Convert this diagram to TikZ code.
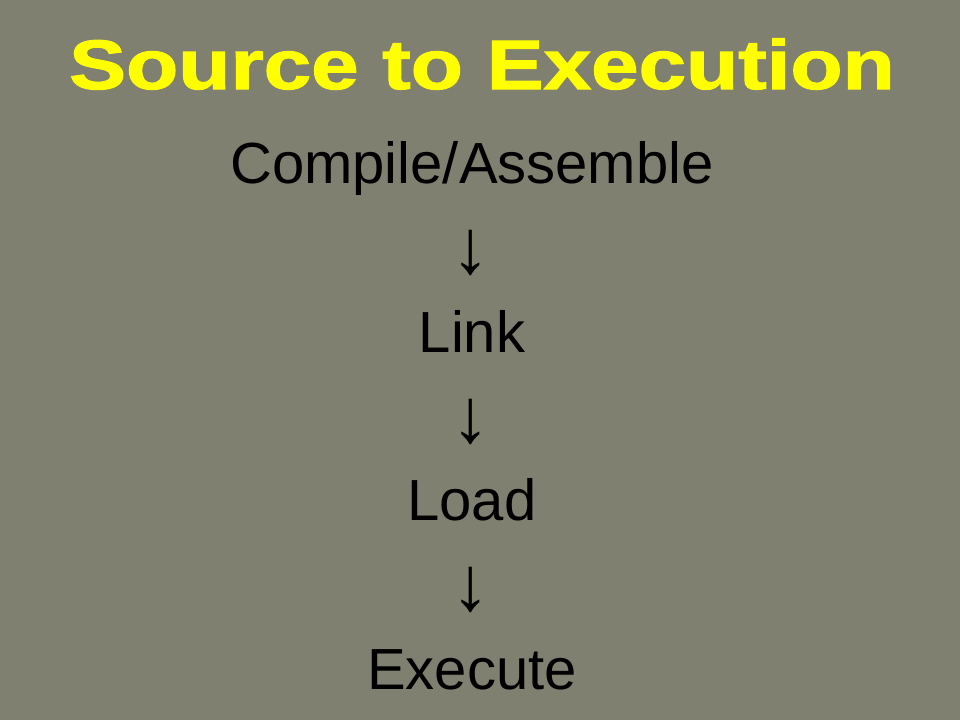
\documentclass[tikz,border=0pt]{standalone}
\usepackage{fontspec}
\setmainfont{Liberation Sans}
\newfontfamily\titlefont[FakeBold=1.5]{Liberation Sans Bold}
\definecolor{bg}{RGB}{128,128,112}
\definecolor{titleyellow}{RGB}{255,255,0}
\tikzset{
  titletext/.style={anchor=base, text=titleyellow, inner sep=0pt,
    font=\fontsize{70pt}{70pt}\titlefont},
  steptext/.style={anchor=base, text=black, inner sep=0pt,
    font=\fontsize{58pt}{58pt}\selectfont},
  arrowtext/.style={anchor=center, text=black, inner sep=0pt,
    font=\fontsize{77pt}{77pt}\selectfont}
}
\begin{document}
\begin{tikzpicture}[x=1pt,y=1pt]
\fill[bg] (0,0) rectangle (960,-720);
\useasboundingbox (0,0) rectangle (960,-720);
\node[titletext] (title) at (482,-89) {\scalebox{1.22}[1]{Source to Execution}};
\node[steptext] (compile) at (472,-183) {Compile/Assemble};
\node[arrowtext] (a1) at (471,-253) {↓};
\node[steptext] (link) at (472,-352) {Link};
\node[arrowtext] (a2) at (471,-422) {↓};
\node[steptext] (load) at (472,-520) {Load};
\node[arrowtext] (a3) at (471,-590) {↓};
\node[steptext] (execute) at (472,-689) {Execute};
\end{tikzpicture}
\end{document}
